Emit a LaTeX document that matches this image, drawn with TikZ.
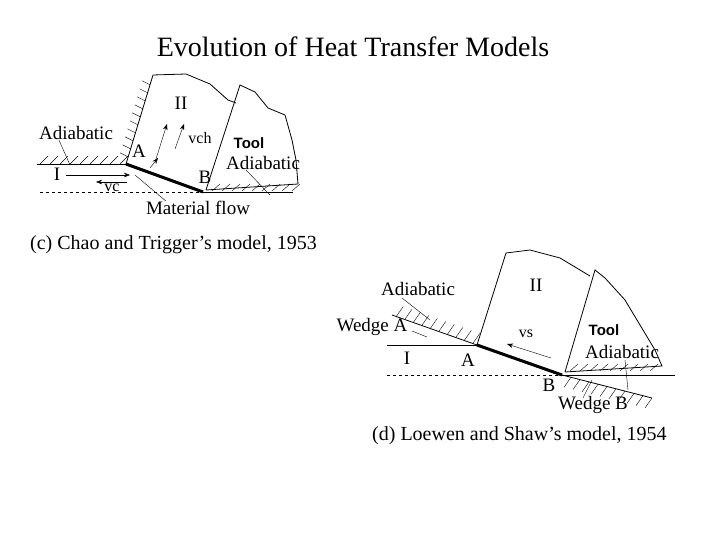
\documentclass[tikz,border=0pt]{standalone}
\usepackage{fontspec}
\setmainfont{Liberation Serif}
\newfontfamily\arialf{Liberation Sans}
\usetikzlibrary{calc,arrows.meta}
\tikzset{
 lab/.style={font=\fontsize{19}{19}\selectfont, inner sep=0pt},
 sml/.style={font=\fontsize{16}{16}\selectfont, inner sep=0pt},
 toolf/.style={font=\arialf\bfseries\fontsize{15}{15}\selectfont, inner sep=0pt},
 outl/.style={line width=0.8pt},
 arr/.style={-{Stealth[length=6pt]}},
 captxt/.style={font=\fontsize{20}{20}\selectfont, inner sep=0pt},
}
\begin{document}
\begin{tikzpicture}[x=1pt,y=-1pt]
\useasboundingbox (0,0) rectangle (720,540);
\node[font=\fontsize{28}{28}\selectfont] (title) at (353,47) {Evolution of Heat Transfer Models};
% ---------- (c)
\coordinate (cA) at (126,164); \coordinate (cB) at (203,192);
\draw[outl] (37,164) -- (cA);
\foreach \x in {40,50,...,120} \draw (\x,164) -- (\x+8,156);
\draw[outl] (cA) -- (153,75) -- (186,74) -- (210,84) -- (228,100) -- (236,103);
\foreach \t in {0.08,0.17,...,0.95} \draw ($(cA)!\t!(153,75)$) -- ++(-8,-4);
\draw[line width=3pt] (cA) -- (cB);
\draw[dashed] (40,192) -- (cB);
\draw[outl] (cB) -- (293,192);
\draw[outl] (206,190) -- (240,85) -- (255,92) -- (268,108) -- (285,115) -- (292,140) -- (296,160) -- (298,184) -- (206,190);
\foreach \x in {212,222,...,292} \draw (\x,191) -- (\x+8,184);
\node[lab] (cII) at (181,103) {II};
\node[sml] (cvch) at (200,138) {vch};
\node[lab] (cAl) at (139,151) {A};
\node[toolf] (ctool) at (249,143) {Tool};
\node[lab] (cad2) at (263,163) {Adiabatic};
\node[lab] (cBl) at (205,177) {B};
\node[lab] (cad1) at (76,133) {Adiabatic};
\node[lab] (cI) at (57,174) {I};
\node[sml] (cvc) at (112,188) {vc};
\node[lab] (cmf) at (198,208) {Material flow};
\coordinate (c1s) at (66,175); \coordinate (c1e) at (130,175);
\draw[arr] (c1s) -- (c1e);
\draw[arr] (127,182) -- (96,182);
\draw[arr] (156,159) -- (167,124);
\draw[arr] (175,149) -- (184,124);
\draw[arr] (150,168) -- (158,158);
\draw ($(cmf.north west)+(20,0)$) -- (135,175);
\draw ($(cad1.south west)+(20,0)$) -- (70,165);
\draw ($(cad2.south west)+(20,0)$) -- (270,195);
\node[captxt,anchor=west] (ccap) at (30,245) {(c) Chao and Trigger’s model, 1953};
% ---------- (d)
\coordinate (dA) at (477,345); \coordinate (dB) at (562,375);
\draw[outl] (387,345) -- (dA);
\draw[outl] (392,315) -- (dA);
\foreach \t in {0.05,0.15,...,0.95} \draw ($(392,315)!\t!(dA)$) -- ++(7,-10);
\draw[line width=3pt] (dA) -- (dB);
\draw[dashed] (387,375) -- (dB);
\draw[outl] (dB) -- (675,375);
\draw[outl] (dB) -- (652,398);
\foreach \t in {0.1,0.2,...,1.0} \draw ($(dB)!\t!(652,398)$) -- ++(-7,10);
\draw[outl] (dA) -- (506,253) -- (530,250) -- (560,258) -- (580,270) -- (590,276);
\draw[outl] (565,372) -- (595,270) -- (605,278) -- (625,300) -- (640,325) -- (655,350) -- (662,366) -- (565,372);
\foreach \x in {570,580,...,650} \draw (\x,371) -- (\x+8,364);
\node[lab] (dII) at (536,285) {II};
\node[sml] (dvs) at (526,334) {vs};
\draw[arr] (551,358) -- (507,344);
\node[lab] (dad1) at (418,289) {Adiabatic};
\node[lab] (dwA) at (372,327) {Wedge A};
\node[lab] (dI) at (407,358) {I};
\node[lab] (dAl) at (468,360) {A};
\node[toolf] (dtool) at (604,330) {Tool};
\node[lab] (dad2) at (622,352) {Adiabatic};
\node[lab] (dBl) at (549,385) {B};
\node[lab] (dwB) at (593,405) {Wedge B};
\draw (402,298) -- (430,320);
\draw (412,331) -- (427,337);
\draw (625,360) -- (628,390);
\draw (583,398) -- (592,380);
\node[captxt,anchor=west] (dcap) at (372,436) {(d) Loewen and Shaw’s model, 1954};
\end{tikzpicture}
\end{document}
